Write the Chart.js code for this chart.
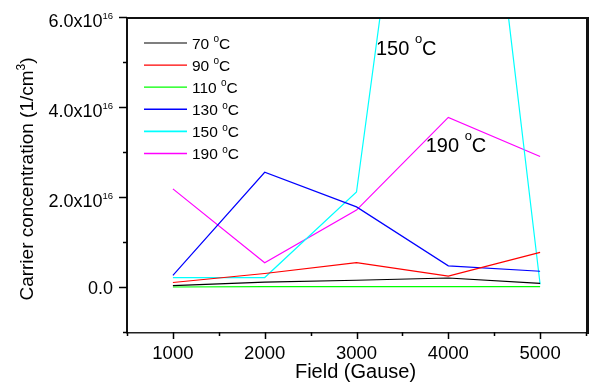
<!DOCTYPE html>
<html>
<head>
<meta charset="utf-8">
<script src="https://cdn.jsdelivr.net/npm/chart.js@4/dist/chart.umd.min.js"></script>
<style>
  html, body { margin: 0; padding: 0; background: #ffffff; }
</style>
</head>
<body>
<canvas id="c" width="589" height="384"></canvas>
<script>
// ---- data ----
const fields = [1000, 2000, 3000, 4000, 5000];           // Field (Gause)
const temps = ['70', '90', '110', '130', '150', '190'];   // series (°C)
const s70  = [0.03e16, 0.11e16, 0.15e16, 0.20e16, 0.08e16];
const s90  = [0.10e16, 0.30e16, 0.54e16, 0.24e16, 0.77e16];
const s110 = [0.00e16, 0.01e16, 0.01e16, 0.01e16, 0.01e16];
const s130 = [0.26e16, 2.55e16, 1.78e16, 0.47e16, 0.35e16];
const s150 = [0.21e16, 0.21e16, 2.11e16, 17.3e16, 0.06e16];
const s190 = [2.18e16, 0.54e16, 1.71e16, 3.77e16, 2.90e16];
const xMajorTicks = [1000, 2000, 3000, 4000, 5000];
const xMinorTicks = [500, 1500, 2500, 3500, 4500, 5500];
const yMajorTicks = [0, 2e16, 4e16, 6e16];
const yMinorTicks = [-1e16, 1e16, 3e16, 5e16];
const annotations = [
  { text: '150', x: 3212, y: 5.15e16 },
  { text: '190', x: 3754, y: 2.99e16 }
];

const seriesValues = [s70, s90, s110, s130, s150, s190];
const colors = ['#000000', '#ff0000', '#00ff00', '#0000ff', '#00ffff', '#ff00ff'];
const FONT = '"Liberation Sans", Arial, Helvetica, sans-serif';

const datasets = temps.map((t, i) => ({
  label: t + ' °C',
  data: fields.map((f, j) => ({ x: f, y: seriesValues[i][j] })),
  borderColor: colors[i],
  backgroundColor: colors[i],
  borderWidth: 1.2,
  pointRadius: 0,
  tension: 0,
  fill: false
}));

function font(sz) { return sz + 'px ' + FONT; }

function drawPieces(ctx, pieces, x, y) {
  let cx = x;
  for (const p of pieces) {
    ctx.font = font(p.size);
    ctx.fillText(p.t, cx, y - (p.raise || 0));
    cx += ctx.measureText(p.t).width;
  }
  return cx;
}
function piecesWidth(ctx, pieces) {
  let w = 0;
  for (const p of pieces) { ctx.font = font(p.size); w += ctx.measureText(p.t).width; }
  return w;
}
function tempPieces(t, size, supSize, raise) {
  return [{ t: t + ' ', size: size }, { t: 'o', size: supSize, raise: raise }, { t: 'C', size: size }];
}

const decor = {
  id: 'decor',
  afterDraw(chart) {
    const ctx = chart.ctx;
    const a = chart.chartArea;
    const xs = chart.scales.x, ys = chart.scales.y;
    ctx.save();

    // frame
    ctx.fillStyle = '#111111';
    ctx.fillRect(a.left - 1, a.top, a.right - a.left + 3, 2);      // top
    ctx.fillRect(a.left - 1, a.top, 2, a.bottom - a.top + 1);      // left
    ctx.fillRect(a.right, a.top, 3, a.bottom - a.top + 2);         // right
    ctx.fillStyle = '#222222';
    ctx.fillRect(a.left - 1, a.bottom, a.right - a.left + 3, 1.5); // bottom

    ctx.fillStyle = '#000000';
    ctx.textBaseline = 'alphabetic';
    ctx.textAlign = 'left';

    // ticks
    ctx.strokeStyle = '#000000';
    ctx.lineWidth = 1.5;
    ctx.beginPath();
    for (const v of yMajorTicks) { const p = Math.round(ys.getPixelForValue(v)) + 0.5; ctx.moveTo(a.left - 8, p); ctx.lineTo(a.left, p); }
    for (const v of yMinorTicks) { const p = Math.round(ys.getPixelForValue(v)) + 0.5; ctx.moveTo(a.left - 4, p); ctx.lineTo(a.left, p); }
    for (const v of xMajorTicks) { const p = Math.round(xs.getPixelForValue(v)) + 0.5; ctx.moveTo(p, a.bottom); ctx.lineTo(p, a.bottom + 7); }
    for (const v of xMinorTicks) { const p = Math.round(xs.getPixelForValue(v)) + 0.5; ctx.moveTo(p, a.bottom); ctx.lineTo(p, a.bottom + 4); }
    ctx.stroke();

    // y tick labels
    const rightEdge = a.left - 14;
    for (const v of yMajorTicks) {
      const p = ys.getPixelForValue(v);
      const mant = (v / 1e16).toFixed(1);
      let pieces, base;
      if (v === 0) { pieces = [{ t: mant, size: 18 }]; base = p + 6.5; }
      else { pieces = [{ t: mant + 'x10', size: 18 }, { t: '16', size: 9.5, raise: 8.5 }]; base = p + 10; }
      const w = piecesWidth(ctx, pieces);
      drawPieces(ctx, pieces, rightEdge - w, base);
    }

    // x tick labels
    ctx.font = font(18.5);
    ctx.textAlign = 'center';
    for (const v of xMajorTicks) {
      ctx.fillText(String(v), xs.getPixelForValue(v), a.bottom + 27);
    }

    // x title
    ctx.font = font(20);
    ctx.fillText('Field (Gause)', (a.left + a.right) / 2 - 1, a.bottom + 46);
    ctx.textAlign = 'left';

    // y title (rotated)
    ctx.save();
    ctx.translate(33, 179);
    ctx.rotate(-Math.PI / 2);
    const yt = [{ t: 'Carrier concentration (1/cm', size: 19 }, { t: '3', size: 12, raise: 8 }, { t: ')', size: 19 }];
    const yw = piecesWidth(ctx, yt);
    drawPieces(ctx, yt, -yw / 2, 0);
    ctx.restore();

    // legend
    const lx0 = a.left + 17, lx1 = a.left + 60, ltx = a.left + 65;
    chart.data.datasets.forEach((ds, i) => {
      const yy = a.top + 26 + i * 22.1;
      ctx.strokeStyle = ds.borderColor;
      ctx.lineWidth = i >= 3 ? 1.6 : 1.2;
      ctx.beginPath();
      ctx.moveTo(lx0, yy); ctx.lineTo(lx1, yy);
      ctx.stroke();
      ctx.fillStyle = '#000000';
      drawPieces(ctx, tempPieces(temps[i], 15.5, 10, 6.5), ltx, yy + 5.7);
    });

    // annotations
    for (const an of annotations) {
      const px = xs.getPixelForValue(an.x), py = ys.getPixelForValue(an.y);
      drawPieces(ctx, tempPieces(an.text, 20, 13, 12), px, py);
    }
    ctx.restore();
  }
};

new Chart(document.getElementById('c'), {
  type: 'line',
  data: { datasets: datasets },
  options: {
    responsive: false,
    animation: false,
    devicePixelRatio: 1,
    layout: { padding: { left: 127, top: 17, right: 3, bottom: 52 } },
    plugins: { legend: { display: false }, tooltip: { enabled: false } },
    scales: {
      x: { type: 'linear', min: 500, max: 5500, display: false },
      y: { type: 'linear', min: -1e16, max: 6e16, display: false }
    }
  },
  plugins: [decor]
});
</script>
</body>
</html>
